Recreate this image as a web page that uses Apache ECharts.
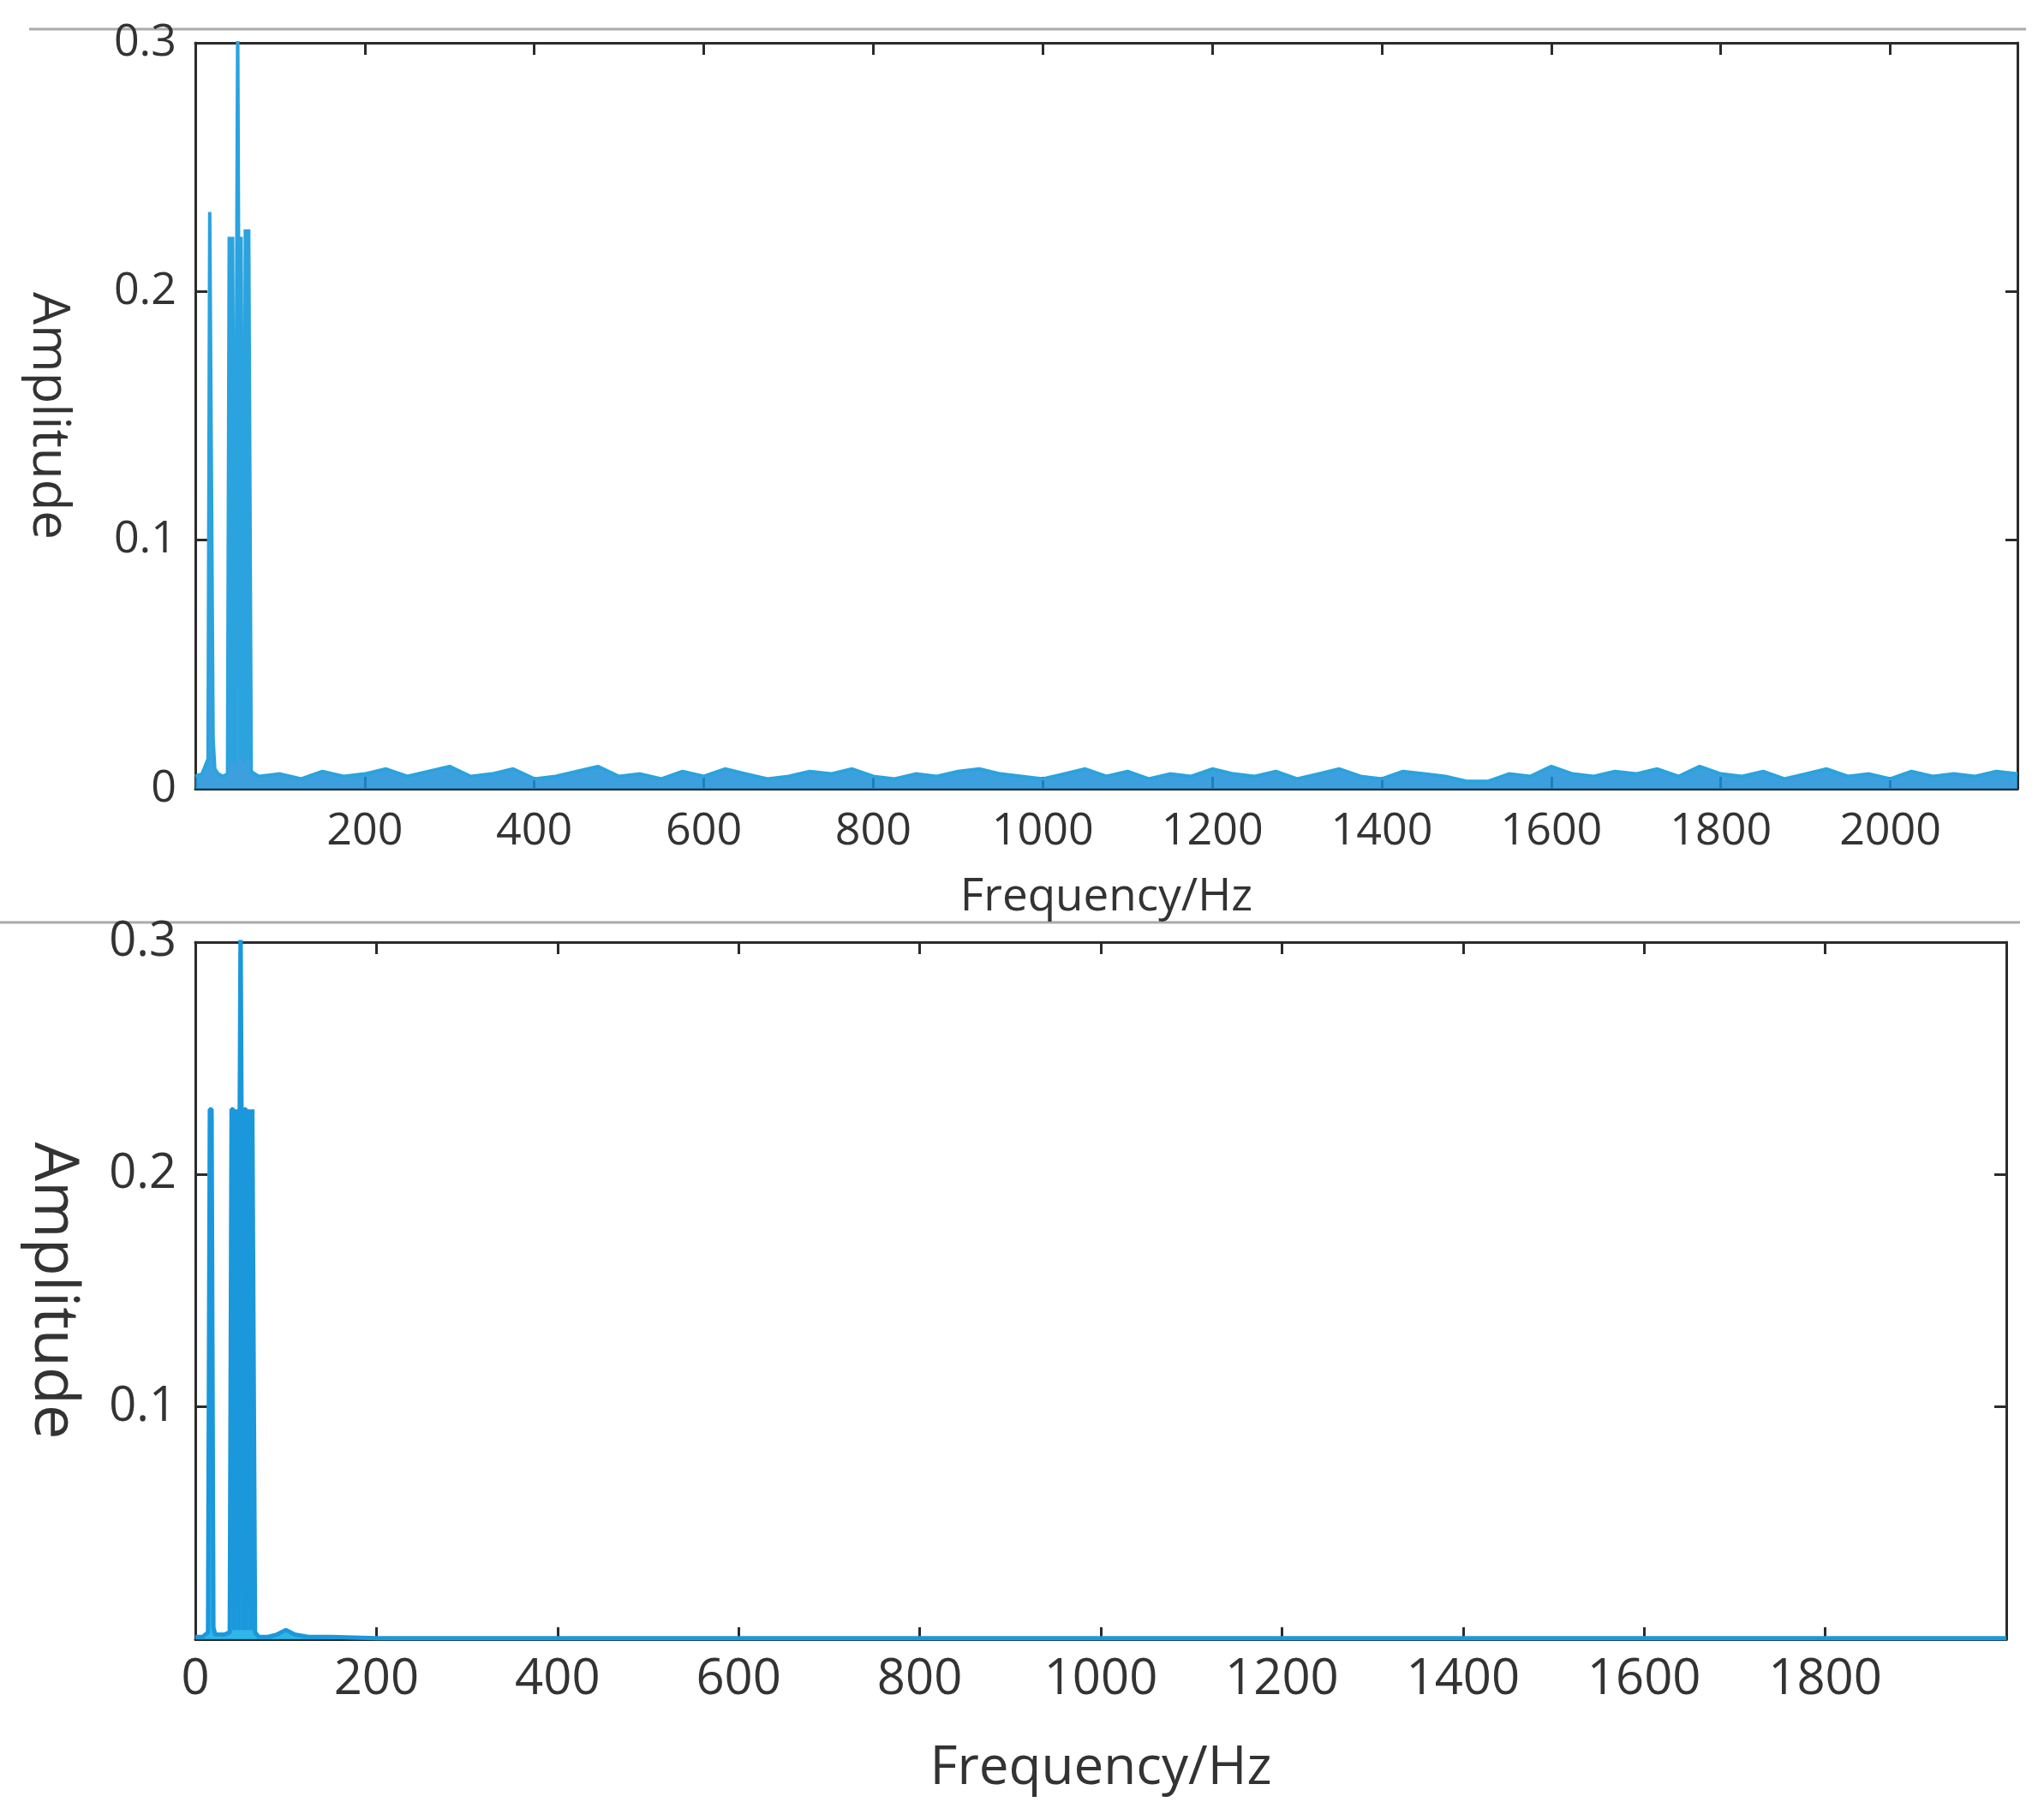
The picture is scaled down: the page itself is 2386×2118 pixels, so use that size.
<!DOCTYPE html>
<html><head><meta charset="utf-8">
<script src="https://cdn.jsdelivr.net/npm/echarts@6/dist/echarts.min.js"></script>
<style>html,body{margin:0;padding:0;background:#fff}#c{width:2386px;height:2118px}</style>
</head><body><div id="c"></div>
<script>
// Top spectrum: low-frequency peaks (Hz, amplitude)
const topPeakFreq = [0,8,15,17,19,21,23,27,33,38,40,41,43,44,46,47,49,50,51,53,54,56,57,59,60,62,63,65,66,70];
const topPeakAmp  = [0.005,0.006,0.012,0.232,0.232,0.02,0.008,0.006,0.005,0.006,0.222,0.222,0.01,0.222,0.222,0.01,0.222,0.31,0.222,0.012,0.222,0.222,0.01,0.225,0.225,0.012,0.225,0.225,0.007,0.006];
// Top spectrum: broadband noise floor, 75..2150 Hz, step 25
const topNoiseStart = 75, topNoiseStep = 25;
const topNoiseAmp = [0.005,0.006,0.004,0.007,0.005,0.006,0.008,0.005,0.007,0.009,0.005,0.006,0.008,0.004,0.005,0.007,0.009,0.005,0.006,0.004,
  0.007,0.005,0.008,0.006,0.004,0.005,0.007,0.006,0.008,0.005,0.004,0.006,0.005,0.007,0.008,0.006,0.005,0.004,0.006,0.008,
  0.005,0.007,0.004,0.006,0.005,0.008,0.006,0.005,0.007,0.004,0.006,0.008,0.005,0.004,0.007,0.006,0.005,0.003,0.003,0.006,
  0.005,0.009,0.006,0.005,0.007,0.006,0.008,0.005,0.009,0.006,0.005,0.007,0.004,0.006,0.008,0.005,0.006,0.004,0.007,0.005,
  0.006,0.005,0.007,0.006];
// Bottom spectrum
const botPeakFreq = [0,8,14,16,18,20,22,26,32,38,40,42,43,45,46,48,49,50,51,53,54,56,57,59,60,62,63,66,70];
const botPeakAmp  = [0.001,0.001,0.003,0.228,0.228,0.005,0.002,0.002,0.002,0.003,0.228,0.228,0.004,0.228,0.228,0.004,0.228,0.31,0.228,0.004,0.228,0.228,0.004,0.228,0.228,0.004,0.228,0.003,0.001];
const botTailFreq = [80,90,100,110,125,150,200,300,400,600,800,1000,1200,1400,1600,1800,2000];
const botTailAmp  = [0.001,0.002,0.004,0.002,0.001,0.001,0.0005,0.0005,0.0005,0.0005,0.0005,0.0005,0.0005,0.0005,0.0005,0.0005,0.0005];
const xTicks = [0,200,400,600,800,1000,1200,1400,1600,1800,2000];
const yTicks = [0,0.1,0.2,0.3];

const topData = topPeakFreq.map((f,i)=>[f,topPeakAmp[i]]).concat(topNoiseAmp.map((v,i)=>[topNoiseStart+i*topNoiseStep,v]));
const botData = botPeakFreq.map((f,i)=>[f,botPeakAmp[i]]).concat(botTailFreq.map((f,i)=>[f,botTailAmp[i]]));

const FONT='Open Sans', TC='#333', AX='#2b2b2b';
function xAx(gi,max,fs,showZero,pos,labels){return {type:'value',gridIndex:gi,min:0,max:max,interval:200,position:pos,
  axisLine:{show:true,onZero:false,lineStyle:{color:AX,width:3}},axisTick:{show:true,inside:true,length:14,lineStyle:{color:AX,width:3}},
  splitLine:{show:false},axisLabel:{show:labels,fontFamily:FONT,fontSize:fs,color:TC,margin:18,showMaxLabel:false,formatter:v=>(v===0&&!showZero)?'':String(v)}};}
function yAx(gi,fs,showZero,pos,labels){return {type:'value',gridIndex:gi,min:0,max:0.3,interval:0.1,position:pos,
  axisLine:{show:true,onZero:false,lineStyle:{color:AX,width:3}},axisTick:{show:true,inside:true,length:14,lineStyle:{color:AX,width:3}},
  splitLine:{show:false},axisLabel:{show:labels,fontFamily:FONT,fontSize:fs,color:TC,margin:22,formatter:v=>(v===0&&!showZero)?'':String(+v.toFixed(1))}};}

const chart=echarts.init(document.getElementById('c'));
const xa=[xAx(0,2150,52,false,'bottom',true),xAx(0,2150,52,false,'top',false),xAx(1,2000,58,true,'bottom',true),xAx(1,2000,58,true,'top',false)];
xa[0].name='Frequency/Hz';xa[0].nameLocation='middle';xa[0].nameGap=100;xa[0].nameTextStyle={fontFamily:FONT,fontSize:53,color:TC};
xa[2].name='Frequency/Hz';xa[2].nameLocation='middle';xa[2].nameGap=120;xa[2].nameTextStyle={fontFamily:FONT,fontSize:62,color:TC};
xa[0].axisLabel.margin=24;
const ya=[yAx(0,52,true,'left',true),yAx(0,52,true,'right',false),yAx(1,56,false,'left',true),yAx(1,56,false,'right',false)];
ya[0].name='Amplitude';ya[0].nameLocation='middle';ya[0].nameRotate=-90;ya[0].nameGap=142;ya[0].nameTextStyle={fontFamily:FONT,fontSize:60,color:TC};
ya[2].name='Amplitude';ya[2].nameLocation='middle';ya[2].nameRotate=-90;ya[2].nameGap=130;ya[2].nameTextStyle={fontFamily:FONT,fontSize:72,color:TC};
ya[0].axisLabel.formatter=v=>v===0?'0':String(+v.toFixed(1));
chart.setOption({
  animation:false,backgroundColor:'#fff',
  grid:[{left:228,right:31,top:50,height:871,outerBoundsMode:'none',containLabel:false},
        {left:228,right:44,top:1100,height:814,outerBoundsMode:'none',containLabel:false}],
  xAxis:xa,yAxis:ya,
  graphic:[
    {type:'line',shape:{x1:34,y1:34,x2:2365,y2:34},style:{stroke:'#aaa',lineWidth:3}},
    {type:'line',shape:{x1:0,y1:1077,x2:2358,y2:1077},style:{stroke:'#aaa',lineWidth:3}}
  ],
  series:[
    {type:'line',xAxisIndex:0,yAxisIndex:0,data:topData,showSymbol:false,lineStyle:{color:'#2aa3de',width:4},areaStyle:{color:'#1b8fd8',opacity:0.85}},
    {type:'line',xAxisIndex:2,yAxisIndex:2,data:botData,showSymbol:false,lineStyle:{color:'#1b98dc',width:5},areaStyle:{color:'#18aee6',opacity:0.9}}
  ]
});
</script></body></html>
